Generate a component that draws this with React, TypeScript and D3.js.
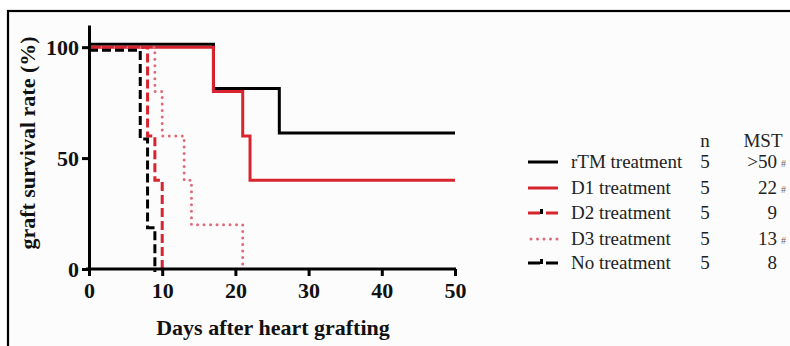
import React, { useEffect, useRef } from 'react';
import * as d3 from 'd3';

// survival curves (day of event, % surviving from that day on)
const rtmDays = [0, 17, 26, 50];
const rtmSurv = [100, 80, 60, 60];
const d1Days = [0, 17, 21, 22, 50];
const d1Surv = [100, 80, 60, 40, 40];
const d2Days = [0, 8, 9, 10];
const d2Surv = [100, 60, 40, 0];
const d3Days = [0, 9, 10, 13, 14, 21];
const d3Surv = [100, 80, 60, 40, 20, 0];
const noDays = [0, 7, 8, 9];
const noSurv = [100, 60, 20, 0];

const groupNames = ['rTM treatment', 'D1 treatment', 'D2 treatment', 'D3 treatment', 'No treatment'];
const groupN = [5, 5, 5, 5, 5];
const groupMST = ['>50', '22', '9', '13', '8'];
const groupSig = [true, true, false, true, false];

const xTicks = [0, 10, 20, 30, 40, 50];
const yTicks = [0, 50, 100];

const RED = '#d7242e';
const PINK = '#e06b78';
const SERIF = "'Liberation Serif', 'Times New Roman', serif";

// stroke styles per series, plus a small vertical nudge like GraphPad does for overlaps
const styles = [
  { color: '#000', dash: null, nudge: -3, width: 3, cap: 'butt' },
  { color: RED, dash: null, nudge: 0, width: 3, cap: 'butt' },
  { color: RED, dash: '9,4', nudge: 0, width: 3, cap: 'butt' },
  { color: PINK, dash: '0,6.5', nudge: 0, width: 3, cap: 'round' },
  { color: '#000', dash: '9,4', nudge: 3, width: 3, cap: 'butt' },
];

export default function App() {
  const ref = useRef<SVGSVGElement>(null);

  useEffect(() => {
    const svg = d3.select(ref.current);
    svg.selectAll('*').remove();

    const x = d3.scaleLinear().domain([0, 50]).range([89, 455]);
    const y = d3.scaleLinear().domain([0, 110]).range([269, 25]);

    // frame
    svg.append('rect').attr('width', 790).attr('height', 346).attr('fill', '#fff');
    svg.append('rect').attr('x', 8).attr('y', 11).attr('width', 790).attr('height', 346)
      .attr('fill', '#fcfcfc').attr('stroke', '#000').attr('stroke-width', 2.2);

    const series = [
      [rtmDays, rtmSurv], [d1Days, d1Surv], [d2Days, d2Surv], [d3Days, d3Surv], [noDays, noSurv],
    ];

    const line = d3.line<[number, number]>()
      .x(d => x(d[0]))
      .y(d => y(d[1]))
      .curve(d3.curveStepAfter);

    // black solid first so the red lines sit on top where they overlap
    const order = [0, 1, 3, 2, 4];
    order.forEach(i => {
      const [days, surv] = series[i];
      const pts = days.map((d, k) => [d, surv[k]] as [number, number]);
      const s = styles[i];
      svg.append('path')
        .attr('d', line(pts))
        .attr('transform', `translate(0,${s.nudge})`)
        .attr('fill', 'none')
        .attr('stroke', s.color)
        .attr('stroke-width', s.width)
        .attr('stroke-dasharray', s.dash)
        .attr('stroke-linecap', s.cap);
    });

    // axes
    const gx = svg.append('g').attr('transform', 'translate(0,269)')
      .call(d3.axisBottom(x).tickValues(xTicks).tickSize(7).tickSizeOuter(0));
    const gy = svg.append('g').attr('transform', 'translate(89,0)')
      .call(d3.axisLeft(y).tickValues(yTicks).tickSize(7).tickSizeOuter(0));
    [gx, gy].forEach(g => {
      g.select('.domain').attr('stroke', '#000').attr('stroke-width', 3);
      g.selectAll('.tick line').attr('stroke', '#000').attr('stroke-width', 3);
      g.selectAll('.tick text')
        .style('font-family', SERIF)
        .attr('font-weight', 'bold')
        .attr('font-size', 22)
        .attr('fill', '#111');
    });
    gx.selectAll('.tick text').attr('dy', '0.95em').attr('y', 8);
    gy.selectAll('.tick text').attr('x', -10).attr('dy', '0.34em');
    gx.select('.domain').attr('d', 'M86,0H456');

    svg.append('text')
      .attr('x', 273).attr('y', 335)
      .attr('text-anchor', 'middle')
      .style('font-family', SERIF)
      .attr('font-weight', 'bold').attr('font-size', 22).attr('fill', '#111')
      .text('Days after heart grafting');

    svg.append('text')
      .attr('transform', 'translate(35,143) rotate(-90)')
      .attr('text-anchor', 'middle')
      .style('font-family', SERIF)
      .attr('font-weight', 'bold').attr('font-size', 22).attr('fill', '#111')
      .text('graft survival rate (%)');

    // legend table
    const rowY = [162, 188, 213, 239, 263];
    const leg = svg.append('g');
    const txt = (xx: number, yy: number, s: string, anchor = 'start', size = 19, fill = '#222') =>
      leg.append('text').attr('x', xx).attr('y', yy).attr('text-anchor', anchor)
        .style('font-family', SERIF).attr('font-size', size).attr('fill', fill).text(s);

    txt(705, 147, 'n', 'middle');
    txt(763, 147, 'MST', 'middle');

    groupNames.forEach((name, i) => {
      const cy = rowY[i];
      const s = styles[i];
      if (i === 2 || i === 4) {
        leg.append('line').attr('x1', 528).attr('x2', 540).attr('y1', cy).attr('y2', cy)
          .attr('stroke', s.color).attr('stroke-width', 3);
        leg.append('line').attr('x1', 546).attr('x2', 558).attr('y1', cy).attr('y2', cy)
          .attr('stroke', s.color).attr('stroke-width', 3);
        leg.append('rect').attr('x', 540).attr('y', cy - 4).attr('width', 3).attr('height', 5).attr('fill', '#000');
      } else {
        leg.append('line').attr('x1', i === 3 ? 531 : 528).attr('x2', 558).attr('y1', cy).attr('y2', cy)
          .attr('stroke', s.color).attr('stroke-width', s.width)
          .attr('stroke-dasharray', s.dash).attr('stroke-linecap', s.cap);
      }
      txt(571, cy + 6, name);
      txt(705, cy + 6, String(groupN[i]), 'middle');
      txt(777, cy + 6, groupMST[i], 'end');
      if (groupSig[i]) txt(781, cy + 5, '#', 'start', 10, '#666');
    });
  }, []);

  return (
    <div style={{ position: 'fixed', left: 0, top: 0 }}>
      <svg ref={ref} width={790} height={346} style={{ display: 'block' }} />
    </div>
  );
}
